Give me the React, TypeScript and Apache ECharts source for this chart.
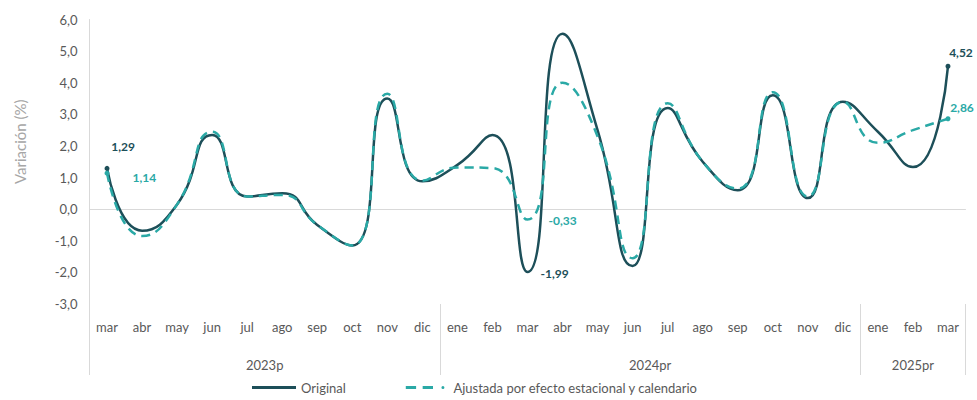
import React, { useEffect, useRef } from "react";
import * as echarts from "echarts";

const months = [
  "mar", "abr", "may", "jun", "jul", "ago", "sep", "oct", "nov", "dic",
  "ene", "feb", "mar", "abr", "may", "jun", "jul", "ago", "sep", "oct", "nov", "dic",
  "ene", "feb", "mar",
];
const years = ["2023p", "2024pr", "2025pr"];
const yearMonthCounts = [10, 12, 3];

const original = [
  1.29, -0.68, 0.15, 2.35, 0.4, 0.5, -0.5, -1.15, 3.5, 0.88,
  1.4, 2.35, -1.99, 5.55, 2.5, -1.8, 3.2, 1.5, 0.6, 3.6, 0.35, 3.4,
  2.45, 1.33, 4.52,
];
const adjusted = [
  1.14, -0.85, 0.15, 2.45, 0.4, 0.45, -0.5, -1.15, 3.65, 0.9,
  1.32, 1.3, -0.33, 4.0, 2.3, -1.55, 3.35, 1.5, 0.65, 3.7, 0.4, 3.4,
  2.1, 2.5, 2.86,
];
const labelledIdx = [0, 12, 24];

const seriesNames = ["Original", "Ajustada por efecto estacional y calendario"];
const colors = ["#1d4f59", "#2aa9a6"];

const FONT = "Lato, 'Open Sans', sans-serif";
const fmt = (v: number, d: number) => v.toFixed(d).replace(".", ",");

export default function App() {
  const ref = useRef<HTMLDivElement>(null);
  useEffect(() => {
    if (!ref.current) return;
    const chart = echarts.init(ref.current, null, { renderer: "svg" });

    const bounds: number[] = [0];
    yearMonthCounts.forEach((c) => bounds.push(bounds[bounds.length - 1] + c));
    const centers = yearMonthCounts.map((c, i) => bounds[i] + c / 2);

    const origLabelOffsets: Record<number, any> = {
      0: { position: "top", offset: [16, -8] },
      12: { position: "right", offset: [8, 1] },
      24: { position: "top", offset: [13, 0] },
    };
    const adjLabelOffsets: Record<number, any> = {
      0: { position: "right", offset: [18, 4] },
      12: { position: "right", offset: [16, 1] },
      24: { position: "top", offset: [14, 2] },
    };

    const mkData = (arr: number[], color: string, offs: Record<number, any>) =>
      arr.map((v, i) =>
        labelledIdx.includes(i)
          ? {
              value: v,
              label: {
                show: true,
                ...offs[i],
                formatter: () => fmt(v, 2),
                color,
                fontWeight: "bold",
                fontSize: 12,
                fontFamily: FONT,
              },
            }
          : v
      );

    const lastIdx = months.length - 1;
    const symSize = (_v: any, p: any) =>
      p.dataIndex === 0 || p.dataIndex === lastIdx ? 5 : 0;

    chart.setOption({
      animation: false,
      textStyle: { fontFamily: FONT },
      grid: { left: 89.5, right: 11.5, top: 19.5, bottom: 96, containLabel: false },
      legend: {
        left: 247,
        top: 376,
        itemWidth: 44,
        itemHeight: 3,
        itemGap: 60,
        textStyle: { color: "#595959", fontSize: 13, fontFamily: FONT },
        data: [
          { name: seriesNames[0], icon: "path://M0,0L44,0L44,3L0,3Z", itemStyle: { color: colors[0] } },
          {
            name: seriesNames[1],
            icon: "path://M0,0L11,0L11,3L0,3Z M18,0L29,0L29,3L18,3Z M38,1.5a1.6,1.6 0 1,0 3.2,0a1.6,1.6 0 1,0 -3.2,0Z M44,1.5L44,1.5",
            itemStyle: { color: colors[1] },
          },
        ],
      },
      xAxis: [
        {
          type: "category",
          data: months,
          position: "bottom",
          boundaryGap: true,
          axisLine: { show: false, onZero: false },
          axisTick: { show: false },
          axisLabel: { color: "#595959", fontSize: 13, margin: 16, interval: 0, fontFamily: FONT },
          splitLine: { show: false },
        },
        {
          type: "value",
          min: 0,
          max: months.length,
          position: "bottom",
          axisLine: { show: false, onZero: false },
          splitLine: { show: false },
          axisTick: {
            show: true,
            customValues: bounds,
            length: 71,
            lineStyle: { color: "#d9d9d9", width: 1 },
          },
          axisLabel: {
            show: true,
            customValues: centers,
            margin: 54,
            color: "#595959",
            fontSize: 13,
            fontFamily: FONT,
            formatter: (v: number) => {
              const i = centers.findIndex((c) => Math.abs(c - v) < 1e-6);
              return i >= 0 ? years[i] : "";
            },
          },
        },
        {
          type: "category",
          data: months,
          position: "bottom",
          axisLine: { show: true, onZero: true, lineStyle: { color: "#d9d9d9", width: 1 } },
          axisTick: { show: false },
          axisLabel: { show: false },
          splitLine: { show: false },
        },
      ],
      yAxis: {
        type: "value",
        min: -3,
        max: 6,
        interval: 1,
        name: "Variación (%)",
        nameLocation: "middle",
        nameGap: 62,
        nameTextStyle: { color: "#a6a6a6", fontSize: 15, fontFamily: FONT, padding: [0, 0, 0, 40] },
        axisLine: { show: true, lineStyle: { color: "#d9d9d9", width: 1 } },
        axisTick: { show: false },
        splitLine: { show: false },
        axisLabel: {
          color: "#595959",
          fontSize: 13,
          margin: 12,
          fontFamily: FONT,
          formatter: (v: number) => fmt(v, 1),
        },
      },
      series: [
        {
          name: seriesNames[0],
          type: "line",
          xAxisIndex: 0,
          smooth: 0.55,
          data: mkData(original, colors[0], origLabelOffsets),
          symbol: "circle",
          symbolSize: symSize,
          lineStyle: { color: colors[0], width: 2.5 },
          itemStyle: { color: colors[0] },
          label: { show: false },
          z: 3,
        },
        {
          name: seriesNames[1],
          type: "line",
          xAxisIndex: 0,
          smooth: 0.55,
          data: mkData(adjusted, colors[1], adjLabelOffsets),
          symbol: "circle",
          symbolSize: symSize,
          lineStyle: { color: colors[1], width: 2.5, type: [9, 6] },
          itemStyle: { color: colors[1] },
          label: { show: false },
          z: 4,
        },
      ],
    });
    return () => chart.dispose();
  }, []);

  return (
    <div
      ref={ref}
      style={{ position: "fixed", left: 0, top: 0, width: 977, height: 400, background: "#fff" }}
    />
  );
}
